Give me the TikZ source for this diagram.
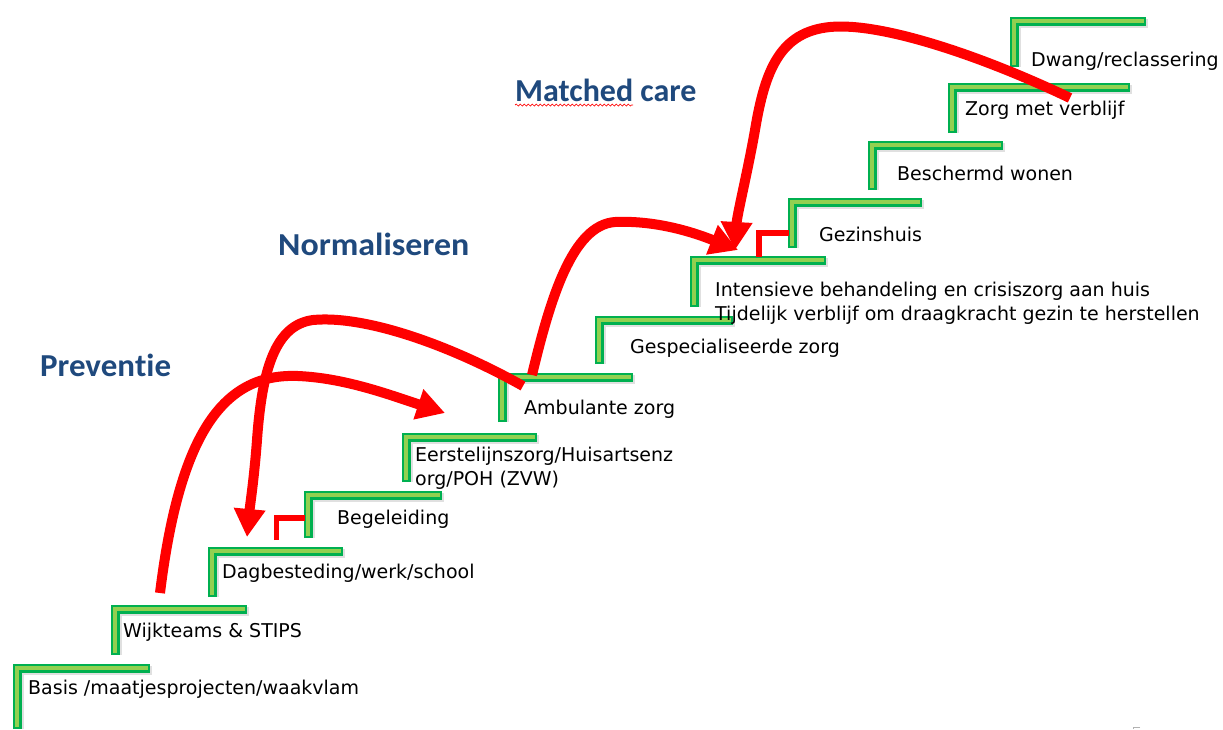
\documentclass[tikz,border=0pt]{standalone}
\usepackage{fontspec}
\setmainfont{DejaVu Sans}
\newfontfamily\headfont[Ligatures={NoCommon}]{Carlito}
\usetikzlibrary{arrows.meta,decorations.pathmorphing}
\definecolor{stepdark}{HTML}{00B050}
\definecolor{steplight}{HTML}{92D050}
\definecolor{headblue}{HTML}{1F497D}
\newcommand\drawstair[5]{% name, cx, cy, right end, bottom end
  \draw[stepshadow] (#2+2,#5) -- (#2+2,#3+2) -- (#4+2,#3+2);
  \draw[stepline] (#2,#5) -- (#2,#3) -- (#4,#3);
  \draw[stepinner] (#2,#5-2.5) -- (#2,#3) -- (#4-2.5,#3);
  \coordinate (#1) at (#2,#3);
}
\begin{document}
\begin{tikzpicture}[x=1pt,y=-1pt,
  stepline/.style={line width=9pt, draw=stepdark, line join=miter},
  stepinner/.style={line width=3.5pt, draw=steplight, line join=miter},
  stepshadow/.style={line width=9pt, draw=black, opacity=0.12, line join=miter},
  lbl/.style={anchor=base west, inner sep=0pt, font=\fontsize{19}{23.5}\selectfont, align=left},
  head/.style={anchor=base west, inner sep=0pt, text=headblue, font=\headfont\bfseries\fontsize{32}{34}\selectfont},
  redarrow/.style={draw=red, line width=10pt, -{Triangle[length=28pt,width=30pt]}},
  redhook/.style={draw=red, line width=5.5pt}]
\useasboundingbox[fill=white] (0,0) rectangle (1223,729);

% stairs
\drawstair{s1}{17}{668}{150}{729}
\drawstair{s2}{115}{609}{247}{655}
\drawstair{s3}{212}{551}{343}{597}
\drawstair{s4}{308}{495}{442}{538}
\drawstair{s5}{406}{437}{537}{482}
\drawstair{s6}{502}{377}{633}{422}
\drawstair{s7}{599}{320}{733}{364}
\drawstair{s8}{694}{260}{826}{307}
\drawstair{s9}{792}{202}{922}{248}
\drawstair{s10}{872}{145}{1003}{190}
\drawstair{s11}{952}{87}{1130}{133}
\drawstair{s12}{1014}{21}{1146}{67}

% labels
\node[lbl] (l1) at (28,694) {Basis /maatjesprojecten/waakvlam};
\node[lbl] (l2) at (123,637) {Wijkteams \& STIPS};
\node[lbl] (l3) at (222,578) {Dagbesteding/werk/school};
\node[lbl] (l4) at (337,524) {Begeleiding};
\node[lbl] (l5) at (415,485) {Eerstelijnszorg/Huisartsenz\\org/POH  (ZVW)};
\node[lbl] (l6) at (524,414) {Ambulante  zorg};
\node[lbl] (l7) at (630,353) {Gespecialiseerde  zorg};
\node[lbl] (l8) at (715,320) {Intensieve behandeling en crisiszorg aan huis\\Tijdelijk verblijf om draagkracht gezin te herstellen};
\node[lbl] (l9) at (819,241) {Gezinshuis};
\node[lbl] (l10) at (897,180) {Beschermd  wonen};
\node[lbl] (l11) at (965,115) {Zorg met verblijf};
\node[lbl] (l12) at (1031,66) {Dwang/reclassering};

% headings
\node[head] (h1) at (40,376) {\scalebox{1.03}[1]{Preven\kern0pt tie}};
\node[head] (h2) at (278,255) {\scalebox{1.06}[1]{Normaliseren}};
\node[head] (h3) at (515,101) {Matched care};
\draw[red, line width=0.7pt, decorate, decoration={snake, amplitude=1pt, segment length=4pt}]
  (h3.base west) ++(0,4) -- ++(118,0);

% small red hooks
\coordinate (k1a) at (276.5,540);
\coordinate (k1b) at (276.5,518);
\coordinate (k1c) at (305,518);
\draw[redhook] (k1a) -- (k1b) -- (k1c);
\coordinate (k2a) at (759,257);
\coordinate (k2b) at (759,233);
\coordinate (k2c) at (789,233);
\draw[redhook] (k2a) -- (k2b) -- (k2c);

% arrow end points
\coordinate (a1s) at (160,593);
\coordinate (a1e) at (445,413);
\coordinate (a2s) at (523,386);
\coordinate (a2e) at (247,537);
\coordinate (a3s) at (532,375);
\coordinate (a3e) at (738,250);
\coordinate (a4s) at (1070,98);
\coordinate (a4e) at (735,250);

% red arrows
\draw[redarrow] (a1s) .. controls (180,430) and (225,373) .. (298,376)
  .. controls (345,378) and (390,395) .. (a1e);
\draw[redarrow] (a2s) .. controls (450,345) and (365,315) .. (313,320)
  .. controls (275,325) and (262,370) .. (257,440)
  .. controls (254,480) and (250,505) .. (a2e);
\draw[redarrow] (a3s) .. controls (550,300) and (572,225) .. (615,222)
  .. controls (660,220) and (700,235) .. (a3e);
\draw[redarrow] (a4s) .. controls (980,55) and (880,22) .. (830,27)
  .. controls (780,32) and (765,70) .. (755,130)
  .. controls (748,170) and (737,215) .. (a4e);

% corner mark
\draw[gray!60, line width=0.8pt] (1140,727) -- (1133,727) -- (1133,729);
\end{tikzpicture}
\end{document}
